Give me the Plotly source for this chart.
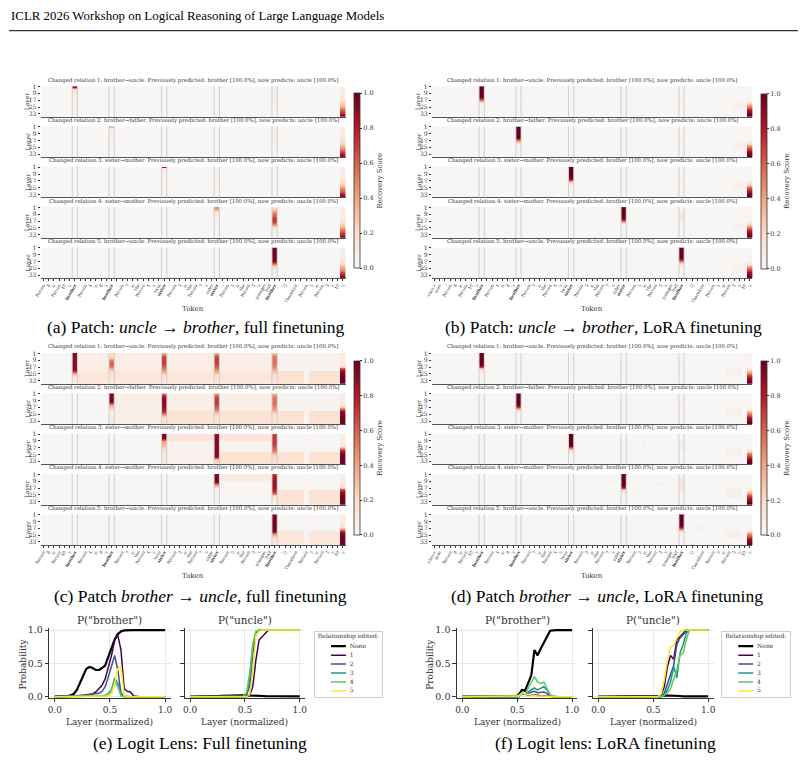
import plotly.graph_objects as go

W, H = 804, 762
def fx(v): return v / W
def fy(v): return 1 - v / H

SERIF = "DejaVu Serif"
TIMES = "Liberation Serif"
INK = "#262626"

# ======================= DATA =======================
header_text = "ICLR 2026 Workshop on Logical Reasoning of Large Language Models"

layers = list(range(1, 37))
layer_ticks = [1, 9, 17, 25, 33]

tokens_full = ["Person", " 8", " is", " Person", " 10", "'s", " brother", ".",
               " Person", " 1", " is", " 8", "'s", " brother", ".",
               " Person", " 7", " is", " the", " Person", " 1", "'s", " twin", " sister", ".",
               " Person", " 3", " is", " the", " Person", " 7", "'s", " older", " sister", ".",
               " Person", " 5", " is", " the", " Person", " 3", "'s", " younger", " half", " brother", ".",
               " Q", ":", " Therefore", ",", " Person", " 5", " is", " Person", " 3", "'s", " 10", "'s"]
bold_full = [6, 13, 23, 33, 44]
tokens_lora = ["<bos>", "user", ":"] + tokens_full
bold_lora = [9, 16, 26, 36, 47]

relations = [("brother", "uncle"), ("brother", "father"), ("sister", "mother"),
             ("sister", "mother"), ("brother", "uncle")]
prev_pred, prev_prob, now_pred, now_prob = "brother", "100.0%", "uncle", "100.0%"
recovery_ticks = [0.0, 0.2, 0.4, 0.6, 0.8, 1.0]

# ---- (a) full finetuning, patch uncle -> brother : layer profiles (layers 1..36)
a_edit_r1 = [0.95, 0.85, 0.5, 0.22, 0.14, 0.12, 0.11, 0.1, 0.1, 0.09,
             0.09, 0.08, 0.08, 0.07, 0.07, 0.06, 0.06, 0.06, 0.05, 0.05,
             0.05, 0.04, 0.04, 0.04, 0.03, 0.03, 0.03, 0.03, 0.02, 0.02,
             0.02, 0.02, 0.02, 0.02, 0.02, 0.02]
a_edit_thin = [0.8, 0.35, 0.12, 0.07, 0.06, 0.06, 0.05, 0.05, 0.05, 0.05,
               0.04, 0.04, 0.04, 0.04, 0.04, 0.03, 0.03, 0.03, 0.03, 0.03] + [0.02] * 16
a_last = [0.06, 0.06, 0.06, 0.07, 0.07, 0.07, 0.08, 0.08, 0.08, 0.09,
          0.09, 0.1, 0.1, 0.11, 0.12, 0.13, 0.15, 0.17, 0.19, 0.22,
          0.25, 0.28, 0.32, 0.36, 0.4, 0.45, 0.5, 0.55, 0.6, 0.65,
          0.7, 0.75, 0.8, 0.85, 0.9, 0.93]
a_faint = [0.05] * 18 + [0.04] * 6 + [0.02] * 12
a_r4_c33 = [0.5, 0.45, 0.4, 0.32, 0.25, 0.18, 0.13, 0.1, 0.08, 0.07,
            0.06, 0.06, 0.05, 0.05, 0.05, 0.04, 0.04, 0.04, 0.03, 0.03] + [0.02] * 16
a_r4_c44 = [0.15, 0.2, 0.25, 0.3, 0.35, 0.4, 0.45, 0.5, 0.55, 0.6,
            0.62, 0.65, 0.68, 0.7, 0.72, 0.72, 0.7, 0.68, 0.65, 0.6,
            0.5, 0.4, 0.3, 0.2, 0.12, 0.08, 0.06, 0.05, 0.04, 0.04] + [0.03] * 6
a_r5_c44 = [0.97] * 16 + [0.9, 0.8, 0.65, 0.5, 0.4, 0.32, 0.25, 0.2, 0.15, 0.1] + [0.06] * 10

a_cols = [[(6, a_edit_r1), (44, a_faint), (57, a_last)],
          [(13, a_edit_thin), (44, a_faint), (57, a_last)],
          [(23, a_edit_thin), (33, a_faint), (57, a_last)],
          [(33, a_r4_c33), (44, a_r4_c44), (57, a_last)],
          [(44, a_r5_c44), (57, a_last)]]
a_regions = [[], [], [], [], []]

# ---- (b) LoRA, patch uncle -> brother
b_edit = [1.0] * 13 + [0.95, 0.85, 0.7, 0.55, 0.4, 0.25, 0.15, 0.1, 0.06] + [0.03] * 14
lora_last = [0.02] * 16 + [0.04, 0.06, 0.1, 0.15, 0.22, 0.3, 0.4, 0.48, 0.55, 0.62,
                           0.68, 0.74, 0.8, 0.85, 0.9, 0.93, 0.96, 0.98, 1.0, 1.0]
b_faint = [0.01] * 6 + [0.05] * 14 + [0.02] * 16
b_r4_c47 = [0.02] * 6 + [0.08, 0.1, 0.12, 0.12, 0.12, 0.12, 0.12, 0.1, 0.1, 0.08,
                         0.06, 0.05, 0.04, 0.03] + [0.02] * 16
b_cols = [[(9, b_edit), (47, b_faint), (60, lora_last)],
          [(16, b_edit), (47, b_faint), (60, lora_last)],
          [(26, b_edit), (47, b_faint), (60, lora_last)],
          [(36, b_edit), (47, b_r4_c47), (60, lora_last)],
          [(47, b_edit), (60, lora_last)]]
b_regions = [[(17, 17, 13, 16, 0.04), (57, 59, 19, 27, 0.05)],
             [(57, 59, 19, 27, 0.05)],
             [(30, 30, 10, 14, 0.04), (57, 59, 19, 27, 0.05)],
             [(57, 59, 19, 27, 0.05)],
             [(57, 59, 19, 27, 0.05)]]

# ---- (c) full finetuning, patch brother -> uncle
c_r1_c6 = [0.92] * 20 + [0.85, 0.75, 0.6, 0.45, 0.35, 0.28, 0.22, 0.18, 0.15, 0.12] + [0.1] * 6
c_r1_c13 = [0.2] * 6 + [0.3, 0.4, 0.5, 0.55, 0.6, 0.6, 0.6, 0.6, 0.58, 0.55, 0.5, 0.45, 0.4, 0.35] + \
           [0.25, 0.22, 0.2, 0.18, 0.16, 0.15, 0.14, 0.13] + [0.12] * 8
c_r1_c23 = [0.35, 0.45, 0.55, 0.62, 0.65, 0.68, 0.7, 0.7, 0.7, 0.7,
            0.7, 0.7, 0.7, 0.68, 0.65, 0.62, 0.6, 0.58, 0.55, 0.5,
            0.45, 0.4, 0.35, 0.3, 0.25, 0.2, 0.18, 0.16, 0.15, 0.14] + [0.13] * 6
c_r1_c44 = [0.3, 0.38, 0.45, 0.5, 0.52, 0.55, 0.55, 0.55, 0.55, 0.55,
            0.55, 0.55, 0.55, 0.53, 0.52, 0.5, 0.48, 0.46, 0.44, 0.4,
            0.36, 0.32, 0.28, 0.24, 0.2, 0.18, 0.16, 0.15, 0.14, 0.14] + [0.13] * 6
c_last = [0.08] * 12 + [0.1, 0.12, 0.15, 0.2, 0.3, 0.45, 0.6, 0.72, 0.8, 0.86,
                        0.9, 0.92, 0.94, 0.95, 0.96, 0.97, 0.97, 0.98] + [0.98] * 6
c_r2_c13 = [0.95] * 10 + [0.85, 0.7, 0.55, 0.45, 0.4, 0.35, 0.3, 0.25, 0.2, 0.15] + [0.08] * 16
c_r2_c23 = [0.5, 0.6, 0.7, 0.78, 0.85, 0.88, 0.9, 0.9, 0.9, 0.9,
            0.9, 0.9, 0.9, 0.9, 0.9, 0.88, 0.86, 0.84, 0.82, 0.8,
            0.78, 0.75, 0.7, 0.6, 0.5, 0.4, 0.3, 0.25, 0.2, 0.18] + [0.16] * 6
c_r3_c23 = [0.95] * 6 + [0.75, 0.6, 0.5, 0.45, 0.4, 0.38, 0.35, 0.32, 0.3, 0.28,
                         0.25, 0.22, 0.2, 0.18, 0.16, 0.15] + [0.13] * 14
c_r3_c33 = [0.85] + [0.92] * 26 + [0.8, 0.6, 0.45, 0.35, 0.28, 0.22, 0.18, 0.15, 0.15]
c_r3_c44 = [0.65, 0.7, 0.72, 0.72, 0.72, 0.72, 0.72, 0.7, 0.7, 0.7,
            0.7, 0.7, 0.68, 0.68, 0.66, 0.65, 0.62, 0.6, 0.58, 0.55,
            0.5, 0.45, 0.4, 0.35, 0.3, 0.25, 0.22, 0.2, 0.18, 0.16] + [0.15] * 6
c_r4_c33 = [0.95] * 10 + [0.85, 0.7, 0.55, 0.4, 0.3, 0.22, 0.15, 0.1] + [0.04] * 18
c_r4_c44 = [0.7, 0.75, 0.78, 0.8, 0.82, 0.85, 0.85, 0.85, 0.85, 0.85,
            0.85, 0.85, 0.85, 0.85, 0.85, 0.85, 0.85, 0.82, 0.8, 0.78,
            0.75, 0.7, 0.6, 0.5, 0.35, 0.25, 0.18, 0.14, 0.12, 0.1] + [0.08] * 6
c_r5_c44 = [0.97] * 20 + [0.9, 0.75, 0.6, 0.45, 0.35, 0.28, 0.22, 0.18, 0.15, 0.12] + [0.1] * 6

c_cols = [[(6, c_r1_c6), (13, c_r1_c13), (23, c_r1_c23), (33, c_r1_c23), (44, c_r1_c44), (57, c_last)],
          [(13, c_r2_c13), (23, c_r2_c23), (33, c_r1_c23), (44, c_r1_c44), (57, c_last)],
          [(23, c_r3_c23), (33, c_r3_c33), (44, c_r3_c44), (57, c_last)],
          [(33, c_r4_c33), (44, c_r4_c44), (57, c_last)],
          [(44, c_r5_c44), (57, c_last)]]
c_regions = [
    [(7, 43, 1, 21, 0.07), (7, 43, 22, 36, 0.12), (45, 56, 1, 21, 0.03), (45, 56, 22, 36, 0.15), (50, 50, 1, 36, 0.03)],
    [(14, 22, 1, 36, 0.06), (24, 43, 1, 21, 0.06), (24, 43, 22, 36, 0.14), (45, 56, 1, 21, 0.03),
     (45, 56, 22, 36, 0.15), (50, 50, 1, 36, 0.03)],
    [(24, 43, 1, 9, 0.13), (24, 43, 10, 21, 0.04), (24, 32, 22, 36, 0.05), (34, 43, 22, 36, 0.15),
     (45, 56, 22, 36, 0.15), (50, 50, 1, 36, 0.03)],
    [(34, 43, 1, 8, 0.08), (45, 56, 20, 36, 0.14), (50, 50, 1, 36, 0.03)],
    [(45, 56, 20, 36, 0.12), (50, 50, 1, 36, 0.03)]]

# ---- (d) LoRA, patch brother -> uncle
d_edit = [1.0] * 14 + [0.95, 0.85, 0.7, 0.5, 0.35, 0.22, 0.14, 0.09, 0.06, 0.04] + [0.02] * 12
d_r4_c47 = [0.02] * 5 + [0.12] * 14 + [0.08, 0.05, 0.03] + [0.02] * 14
d_cols = [[(9, d_edit), (60, lora_last)],
          [(16, d_edit), (60, lora_last)],
          [(26, d_edit), (60, lora_last)],
          [(36, d_edit), (47, d_r4_c47), (60, lora_last)],
          [(47, d_edit), (60, lora_last)]]
d_regions = [[(47, 47, 8, 20, 0.04), (56, 58, 18, 26, 0.05)],
             [(47, 47, 8, 20, 0.04), (56, 58, 18, 26, 0.05)],
             [(30, 30, 10, 14, 0.04), (40, 40, 10, 14, 0.05), (47, 47, 8, 20, 0.06), (56, 58, 18, 26, 0.05)],
             [(39, 39, 11, 14, 0.06), (43, 43, 11, 14, 0.06), (56, 58, 18, 28, 0.06)],
             [(50, 52, 15, 18, 0.04), (56, 58, 20, 28, 0.06)]]

# ---- logit lens (36 layers, normalized layer index)
series_names = ["None", "1", "2", "3", "4", "5"]
series_colors = ["#000000", "#440154", "#3b528b", "#21918c", "#5ec962", "#fde725"]

e_brother_none = [0, 0, 0, 0.005, 0.01, 0.02, 0.04, 0.1, 0.21, 0.32,
                  0.42, 0.445, 0.43, 0.4, 0.4, 0.43, 0.47, 0.6, 0.74, 0.86,
                  0.94, 0.98, 0.995, 1, 1, 1, 1, 1, 1, 1, 1, 1, 1, 1, 1, 1]
e_brother_1 = [0] * 8 + [0.01, 0.015, 0.02, 0.03, 0.04, 0.07, 0.12, 0.17, 0.27, 0.45,
                         0.62, 0.85, 0.92, 0.7, 0.12, 0.08, 0.07, 0.01] + [0] * 10
e_brother_2 = [0] * 5 + [0.005, 0.01, 0.015, 0.02, 0.02, 0.025, 0.03, 0.035, 0.04, 0.05,
                         0.08, 0.15, 0.3, 0.47, 0.62, 0.4, 0.05, 0.01] + [0] * 13
e_brother_3 = [0] * 15 + [0.01, 0.02, 0.05, 0.1, 0.28, 0.2, 0.02] + [0] * 14
e_brother_4 = [0] * 16 + [0.01, 0.04, 0.08, 0.22, 0.15, 0.01] + [0] * 14
e_brother_5 = [0] * 17 + [0.01, 0.04, 0.2, 0.42, 0.46, 0.02] + [0] * 13

e_uncle_none = [0] * 8 + [0.005, 0.01, 0.012, 0.015, 0.015, 0.018, 0.02, 0.02, 0.02, 0.02,
                          0.02, 0.015, 0.012, 0.01, 0.01, 0.01] + [0.008] * 6 + [0.005] * 6
e_uncle_1 = [0] * 19 + [0.02, 0.15, 0.55, 0.85, 0.9, 0.95] + [1] * 11
e_uncle_2 = [0] * 18 + [0.03, 0.15, 0.65, 0.95] + [1] * 14
e_uncle_3 = [0] * 18 + [0.04, 0.25, 0.75, 0.97] + [1] * 14
e_uncle_4 = [0] * 17 + [0.01, 0.06, 0.35, 0.8, 0.98] + [1] * 14
e_uncle_5 = [0] * 19 + [0.03, 0.35, 0.92, 0.98] + [1] * 13

f_brother_none = [0] * 18 + [0.03, 0.1, 0.09, 0.2, 0.32, 0.7, 0.62, 0.72, 0.82, 0.9, 0.99] + [1] * 7
f_brother_1 = [0] * 18 + [0.01, 0.04, 0.03, 0.03, 0.03, 0.02, 0.02, 0.015, 0.01, 0.005] + [0] * 8
f_brother_2 = [0] * 19 + [0.05, 0.04, 0.05, 0.06, 0.08, 0.06, 0.07, 0.07, 0.05, 0.01] + [0] * 7
f_brother_3 = [0] * 19 + [0.05, 0.04, 0.07, 0.1, 0.13, 0.1, 0.13, 0.15, 0.1, 0.02] + [0] * 7
f_brother_4 = [0] * 18 + [0.02, 0.06, 0.04, 0.12, 0.2, 0.3, 0.22, 0.2, 0.22, 0.12, 0.03, 0.01] + [0] * 6
f_brother_5 = [0] * 18 + [0.01, 0.05, 0.04, 0.03, 0.02, 0.015, 0.01, 0.01, 0.005, 0.005] + [0] * 8

f_uncle_none = [0] * 19 + [0.005, 0.01, 0.02, 0.02, 0.02, 0.02, 0.015, 0.01] + [0.005] * 9
f_uncle_1 = [0] * 20 + [0.02, 0.15, 0.45, 0.62, 0.56, 0.85, 0.9, 0.95] + [1] * 8
f_uncle_2 = [0] * 21 + [0.05, 0.2, 0.35, 0.47, 0.78, 0.88, 0.93, 0.98] + [1] * 7
f_uncle_3 = [0] * 21 + [0.03, 0.1, 0.22, 0.45, 0.28, 0.65, 0.78, 0.95] + [1] * 7
f_uncle_4 = [0] * 21 + [0.02, 0.06, 0.12, 0.25, 0.4, 0.62, 0.65, 0.85] + [1] * 7
f_uncle_5 = [0] * 20 + [0.04, 0.25, 0.55, 0.74, 0.78, 0.88, 0.97] + [1] * 9

e_brother = [e_brother_none, e_brother_1, e_brother_2, e_brother_3, e_brother_4, e_brother_5]
e_uncle = [e_uncle_none, e_uncle_1, e_uncle_2, e_uncle_3, e_uncle_4, e_uncle_5]
f_brother = [f_brother_none, f_brother_1, f_brother_2, f_brother_3, f_brother_4, f_brother_5]
f_uncle = [f_uncle_none, f_uncle_1, f_uncle_2, f_uncle_3, f_uncle_4, f_uncle_5]
prob_ticks = [0.0, 0.5, 1.0]

# ======================= BUILD =======================
for lst in [a_edit_r1, a_edit_thin, a_last, a_faint, a_r4_c33, a_r4_c44, a_r5_c44, b_edit, lora_last,
            b_faint, b_r4_c47, c_r1_c6, c_r1_c13, c_r1_c23, c_r1_c44, c_last, c_r2_c13, c_r2_c23,
            c_r3_c23, c_r3_c33, c_r3_c44, c_r4_c33, c_r4_c44, c_r5_c44, d_edit, d_r4_c47] + \
        e_brother + e_uncle + f_brother + f_uncle:
    assert len(lst) == 36, len(lst)

def build(n_tok, cols, regions, base=0.01):
    z = [[base] * n_tok for _ in layers]
    for c0, c1, l0, l1, v in regions:
        for l in range(l0 - 1, l1):
            for c in range(c0, c1 + 1):
                z[l][c] = v
    for c, prof in cols:
        for l in range(len(layers)):
            z[l][c] = prof[l]
    return z

cscale = [[0.0, "#f7f7f7"], [0.2, "#fddbc7"], [0.4, "#f4a582"],
          [0.6, "#d6604d"], [0.8, "#b2182b"], [1.0, "#67001f"]]

fig = go.Figure()
layout = dict(width=W, height=H, margin=dict(l=0, r=0, t=0, b=0),
              paper_bgcolor="white", plot_bgcolor="white", showlegend=False,
              font=dict(family=SERIF, color=INK))
shapes, annos = [], []

def sfx(k): return "" if k == 1 else str(k)

ROW_PITCH, ROW_H = 40.75, 31
CAP_SIZE = 17.5
panels = [
    dict(tokens=tokens_full, bold=bold_full, cols=a_cols, regions=a_regions, left=35, right=343, top=83,
         cbx=351, cbt=90, cbb=267,
         caption="(a) Patch: <i>uncle</i> → <i>brother</i>, full finetuning", capx=192, capy=326, toky=308),
    dict(tokens=tokens_lora, bold=bold_lora, cols=b_cols, regions=b_regions, left=430, right=754, top=83,
         cbx=762.7, cbt=90.5, cbb=267.5,
         caption="(b) Patch: <i>uncle</i> → <i>brother</i>, LoRA finetuning", capx=604, capy=326, toky=308),
    dict(tokens=tokens_full, bold=bold_full, cols=c_cols, regions=c_regions, left=35, right=343, top=352.7,
         cbx=351, cbt=360.7, cbb=536.7,
         caption="(c) Patch <i>brother</i> → <i>uncle</i>, full finetuning", capx=196, capy=598, toky=578),
    dict(tokens=tokens_lora, bold=bold_lora, cols=d_cols, regions=d_regions, left=430, right=754, top=352.7,
         cbx=762.7, cbt=360.7, cbb=537,
         caption="(d) Patch <i>brother</i> → <i>uncle</i>, LoRA finetuning", capx=607, capy=598, toky=578),
]

k = 0
for p_i, P in enumerate(panels):
    ca = "coloraxis" + ("" if p_i == 0 else str(p_i + 1))
    n = len(P["tokens"])
    ticktext = [("<b>%s</b>" % t.strip()) if i in P["bold"] else t.strip() for i, t in enumerate(P["tokens"])]
    for r in range(5):
        k += 1
        top = P["top"] + r * ROW_PITCH
        z = build(n, P["cols"][r], P["regions"][r])
        fig.add_trace(go.Heatmap(z=z, x=list(range(n)), y=layers, coloraxis=ca,
                                 xaxis="x" + sfx(k), yaxis="y" + sfx(k), hoverinfo="skip"))
        bottom_row = (r == 4)
        layout["xaxis" + sfx(k)] = dict(
            domain=[fx(P["left"]), fx(P["right"])], anchor="y" + sfx(k), range=[-0.5, n - 0.5],
            showgrid=False, zeroline=False, showline=True, linecolor="#555555", linewidth=1,
            tickmode="array", tickvals=list(range(n)), ticktext=ticktext,
            showticklabels=bottom_row, ticks="outside" if bottom_row else "",
            ticklen=2, tickwidth=0.6, tickcolor="#333333", tickangle=-60,
            tickfont=dict(size=4.2, family=SERIF, color="#333333"))
        layout["yaxis" + sfx(k)] = dict(
            domain=[fy(top + ROW_H), fy(top)], anchor="x" + sfx(k), range=[36.5, 0.5],
            showgrid=False, zeroline=False, tickmode="array", tickvals=layer_ticks,
            ticks="outside", ticklen=2, tickwidth=0.6, tickcolor="#333333",
            tickfont=dict(size=6, family=SERIF, color="#333333"))
        for c in P["bold"]:
            for xe in (c - 0.5, c + 0.5):
                shapes.append(dict(type="line", xref="x" + sfx(k), yref="y" + sfx(k) + " domain",
                                   x0=xe, x1=xe, y0=0, y1=1, line=dict(color="#cfcfcf", width=1)))
        fr, to = relations[r]
        annos.append(dict(xref="paper", yref="paper", x=fx((P["left"] + P["right"]) / 2), y=fy(top - 0.6),
                          xanchor="center", yanchor="bottom", showarrow=False,
                          text="Changed relation %d: %s→%s. Previously predicted: %s [%s], now predicts: %s [%s]"
                               % (r + 1, fr, to, prev_pred, prev_prob, now_pred, now_prob),
                          font=dict(size=5.4, family=SERIF, color="#333333")))
        annos.append(dict(xref="paper", yref="paper", x=fx(P["left"] - 13), y=fy(top + ROW_H / 2),
                          xanchor="center", yanchor="middle", showarrow=False, textangle=-90,
                          text="Layer", font=dict(size=6, family=SERIF, color="#333333")))
    cb_len = (P["cbb"] - P["cbt"]) / H
    layout[ca] = dict(cmin=0, cmax=1, colorscale=cscale,
                      colorbar=dict(x=fx(P["cbx"]), xanchor="left", xpad=0, ypad=0,
                                    y=fy((P["cbt"] + P["cbb"]) / 2), yanchor="middle",
                                    len=cb_len, lenmode="fraction", thickness=6, thicknessmode="pixels",
                                    outlinewidth=0.8, outlinecolor="#333333",
                                    tickmode="array", tickvals=recovery_ticks,
                                    ticktext=["%.1f" % t for t in recovery_ticks],
                                    ticks="outside", ticklen=2, tickwidth=0.6, tickcolor="#333333",
                                    tickfont=dict(size=6.5, family=SERIF, color="#333333"),
                                    title=dict(text="Recovery Score", side="right",
                                               font=dict(size=7, family=SERIF, color="#333333"))))
    annos.append(dict(xref="paper", yref="paper", x=fx((P["left"] + P["right"]) / 2), y=fy(P["toky"]),
                      xanchor="center", yanchor="middle", showarrow=False, text="Token",
                      font=dict(size=7, family=SERIF, color="#333333")))
    annos.append(dict(xref="paper", yref="paper", x=fx(P["capx"]), y=fy(P["capy"]),
                      xanchor="center", yanchor="middle", showarrow=False, text=P["caption"],
                      font=dict(size=CAP_SIZE, family=TIMES, color="#000000")))

# ---- logit lens line plots
x_norm = [(l - 1) / (len(layers) - 1) for l in layers]
lens_axes = [
    dict(data=e_brother, x0px=49.3, x1px=160.7, title='P("brother")', ylabel=True, ylabx=16.7),
    dict(data=e_uncle, x0px=186.0, x1px=296.7, title='P("uncle")', ylabel=False),
    dict(data=f_brother, x0px=461.0, x1px=571.7, title='P("brother")', ylabel=True, ylabx=428.0),
    dict(data=f_uncle, x0px=598.3, x1px=709.3, title='P("uncle")', ylabel=False),
]
Y0PX, Y1PX = 700.0, 632.7
ydom_top, ydom_bot = 630.7, 701.7
yr = [(Y0PX - ydom_bot) / (Y0PX - Y1PX), (Y0PX - ydom_top) / (Y0PX - Y1PX)]
for j, A in enumerate(lens_axes):
    k += 1
    sc = A["x1px"] - A["x0px"]
    for s_i, series in enumerate(A["data"]):
        fig.add_trace(go.Scatter(x=x_norm, y=series, mode="lines", xaxis="x" + sfx(k), yaxis="y" + sfx(k),
                                 line=dict(color=series_colors[s_i], width=2.2 if s_i == 0 else 1.5),
                                 hoverinfo="skip"))
    layout["xaxis" + sfx(k)] = dict(
        domain=[fx(A["x0px"] - 0.05 * sc), fx(A["x0px"] + 1.05 * sc)], anchor="y" + sfx(k),
        range=[-0.05, 1.05], tickmode="array", tickvals=prob_ticks, ticktext=["%.1f" % t for t in prob_ticks],
        ticks="outside", ticklen=3, tickwidth=1, tickcolor="#333333",
        showline=True, linecolor="#333333", linewidth=1.2, showgrid=True, gridcolor="#e8e8e8", gridwidth=0.8,
        zeroline=False, tickfont=dict(size=9, family=SERIF, color="#333333"))
    layout["yaxis" + sfx(k)] = dict(
        domain=[fy(ydom_bot), fy(ydom_top)], anchor="x" + sfx(k), range=yr,
        tickmode="array", tickvals=prob_ticks, ticktext=["%.1f" % t for t in prob_ticks],
        showticklabels=A["ylabel"], ticks="outside", ticklen=3.5, tickwidth=1, tickcolor="#333333",
        showline=True, linecolor="#333333", linewidth=1.2, showgrid=True, gridcolor="#e8e8e8", gridwidth=0.8,
        zeroline=False, tickfont=dict(size=9.5, family=SERIF, color="#333333"))
    cx = A["x0px"] + 0.5 * sc
    annos.append(dict(xref="paper", yref="paper", x=fx(cx), y=fy(623), xanchor="center", yanchor="middle",
                      showarrow=False, text=A["title"], font=dict(size=10.5, family=SERIF, color="#333333")))
    annos.append(dict(xref="paper", yref="paper", x=fx(cx), y=fy(726), xanchor="center", yanchor="middle",
                      showarrow=False, text="Layer (normalized)", font=dict(size=9, family=SERIF, color="#333333")))
    if A["ylabel"]:
        annos.append(dict(xref="paper", yref="paper", x=fx(A["ylabx"]), y=fy(667), xanchor="center",
                          yanchor="middle", textangle=-90, showarrow=False, text="Probability",
                          font=dict(size=9, family=SERIF, color="#333333")))

# ---- legends drawn inside small boxed axes
legend_boxes = [(311.7, 380.0), (723.0, 791.5)]
LEG_TOP, LEG_BOT = 635.0, 700.7
for (lx0, lx1) in legend_boxes:
    k += 1
    for s_i, name in enumerate(series_names):
        fig.add_trace(go.Scatter(x=[0.243, 0.463], y=[s_i, s_i], mode="lines", xaxis="x" + sfx(k),
                                 yaxis="y" + sfx(k), hoverinfo="skip",
                                 line=dict(color=series_colors[s_i], width=2.2 if s_i == 0 else 1.5)))
    fig.add_trace(go.Scatter(x=[0.52] * len(series_names), y=list(range(len(series_names))), mode="text",
                             text=series_names, textposition="middle right", xaxis="x" + sfx(k),
                             yaxis="y" + sfx(k), hoverinfo="skip",
                             textfont=dict(size=6, family=SERIF, color="#333333")))
    fig.add_trace(go.Scatter(x=[0.5], y=[-1.07], mode="text", text=["Relationship edited:"],
                             textposition="middle center", xaxis="x" + sfx(k), yaxis="y" + sfx(k),
                             hoverinfo="skip", textfont=dict(size=6, family=SERIF, color="#333333")))
    layout["xaxis" + sfx(k)] = dict(domain=[fx(lx0), fx(lx1)], anchor="y" + sfx(k), range=[0, 1],
                                    showgrid=False, zeroline=False, showticklabels=False, ticks="",
                                    showline=True, mirror=True, linecolor="#d0d0d0", linewidth=1)
    layout["yaxis" + sfx(k)] = dict(domain=[fy(LEG_BOT), fy(LEG_TOP)], anchor="x" + sfx(k),
                                    range=[5.71, -1.547], showgrid=False, zeroline=False,
                                    showticklabels=False, ticks="",
                                    showline=True, mirror=True, linecolor="#d0d0d0", linewidth=1)

annos.append(dict(xref="paper", yref="paper", x=fx(196), y=fy(747), xanchor="center", yanchor="middle",
                  showarrow=False, text="(e) Logit Lens: Full finetuning",
                  font=dict(size=CAP_SIZE, family=TIMES, color="#000000")))
annos.append(dict(xref="paper", yref="paper", x=fx(606), y=fy(747), xanchor="center", yanchor="middle",
                  showarrow=False, text="(f) Logit lens: LoRA finetuning",
                  font=dict(size=CAP_SIZE, family=TIMES, color="#000000")))

# ---- page header
annos.append(dict(xref="paper", yref="paper", x=fx(3), y=fy(12), xanchor="left", yanchor="middle",
                  showarrow=False, text=header_text, font=dict(size=12.9, family=TIMES, color="#000000")))
shapes.append(dict(type="line", xref="paper", yref="paper", x0=fx(3), x1=fx(800), y0=fy(27), y1=fy(27),
                   line=dict(color="#000000", width=1)))

layout["shapes"] = shapes
layout["annotations"] = annos
fig.update_layout(**layout)
fig.write_html("out.html")
